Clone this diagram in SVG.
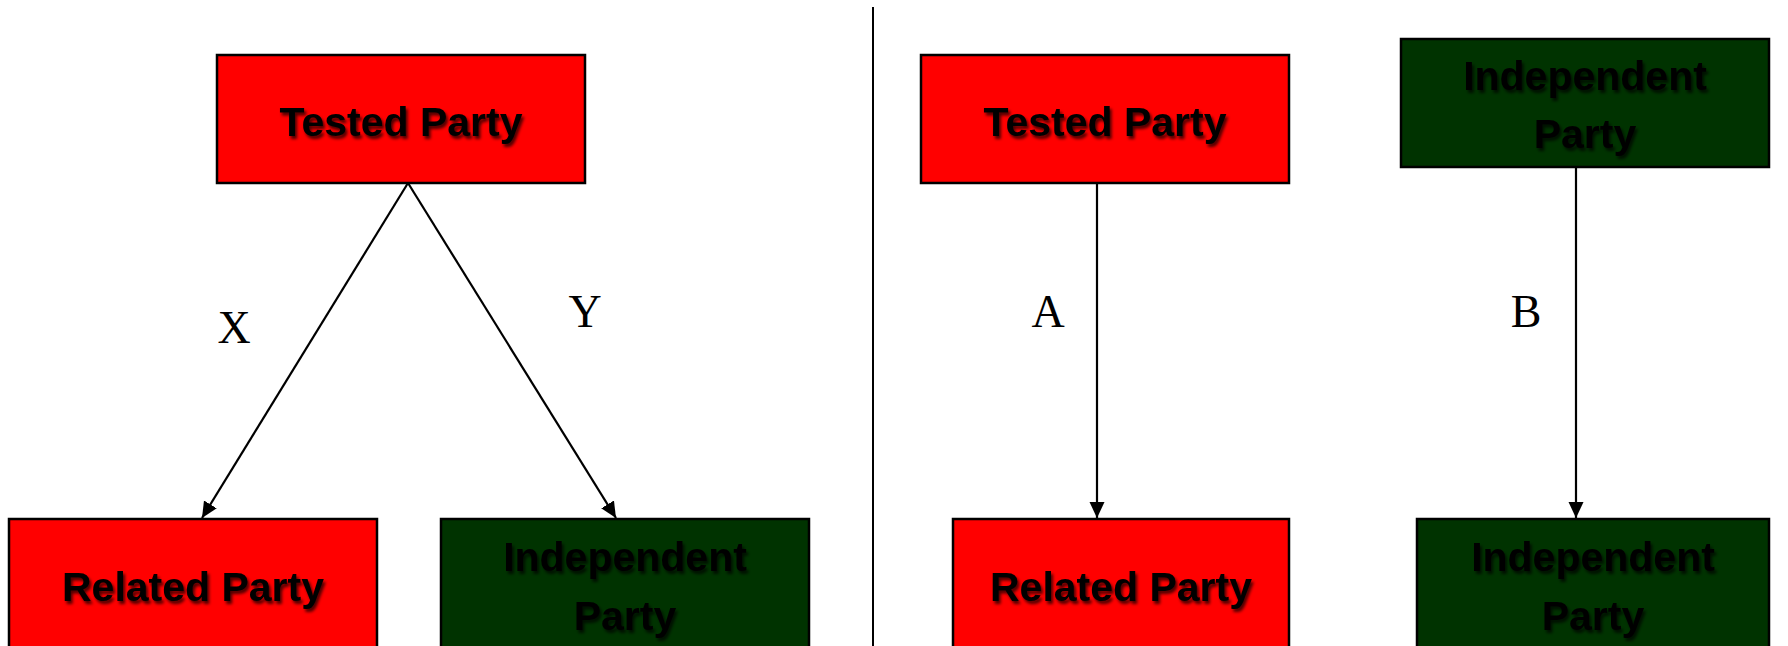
<svg xmlns="http://www.w3.org/2000/svg" width="1788" height="646" viewBox="0 0 1788 646">
<style>
.box{stroke:#000;stroke-width:2.5}
.red{fill:#FF0000}
.green{fill:#003300}
.t{font-family:"Liberation Sans",Arial,sans-serif;font-weight:bold;font-size:41px;fill:#000;text-anchor:middle;filter:url(#sh)}
.lbl{font-family:"Liberation Serif","Times New Roman",serif;font-size:46px;fill:#000;text-anchor:middle}
.c{stroke:#000;stroke-width:2.2;fill:none;marker-end:url(#ah)}
</style>
<defs>
<filter id="sh" x="-10%" y="-30%" width="120%" height="160%">
<feDropShadow dx="2" dy="3" stdDeviation="1.5" flood-color="#000" flood-opacity="0.7"/>
</filter>
<marker id="ah" markerWidth="16" markerHeight="16" refX="16" refY="7.5" orient="auto" markerUnits="userSpaceOnUse">
<path d="M0,0 L16,7.5 L0,15 Z" fill="#000"/>
</marker>
</defs>
<rect width="1788" height="646" fill="#fff"/>
<line x1="873" y1="7" x2="873" y2="646" stroke="#000" stroke-width="2"/>
<g id="connectors">
<line class="c" x1="408" y1="183" x2="202" y2="518"/>
<line class="c" x1="408" y1="183" x2="616" y2="518"/>
<line class="c" x1="1097" y1="183" x2="1097" y2="518"/>
<line class="c" x1="1576" y1="167" x2="1576" y2="518"/>
<text class="lbl" x="234" y="343">X</text>
<text class="lbl" x="585" y="327">Y</text>
<text class="lbl" x="1048" y="327">A</text>
<text class="lbl" x="1526" y="327">B</text>
</g>
<g id="tested-left">
<rect class="box red" x="217" y="55" width="368" height="128"/>
<text class="t" x="401" y="136">Tested Party</text>
</g>
<g id="related-left">
<rect class="box red" x="9" y="519" width="368" height="160"/>
<text class="t" x="193" y="601">Related Party</text>
</g>
<g id="independent-left">
<rect class="box green" x="441" y="519" width="368" height="160"/>
<text class="t" x="625" y="571">Independent</text>
<text class="t" x="625" y="630">Party</text>
</g>
<g id="tested-right">
<rect class="box red" x="921" y="55" width="368" height="128"/>
<text class="t" x="1105" y="136">Tested Party</text>
</g>
<g id="independent-top-right">
<rect class="box green" x="1401" y="39" width="368" height="128"/>
<text class="t" x="1585" y="90">Independent</text>
<text class="t" x="1585" y="148">Party</text>
</g>
<g id="related-right">
<rect class="box red" x="953" y="519" width="336" height="160"/>
<text class="t" x="1121" y="601">Related Party</text>
</g>
<g id="independent-bottom-right">
<rect class="box green" x="1417" y="519" width="352" height="160"/>
<text class="t" x="1593" y="571">Independent</text>
<text class="t" x="1593" y="630">Party</text>
</g>
</svg>
